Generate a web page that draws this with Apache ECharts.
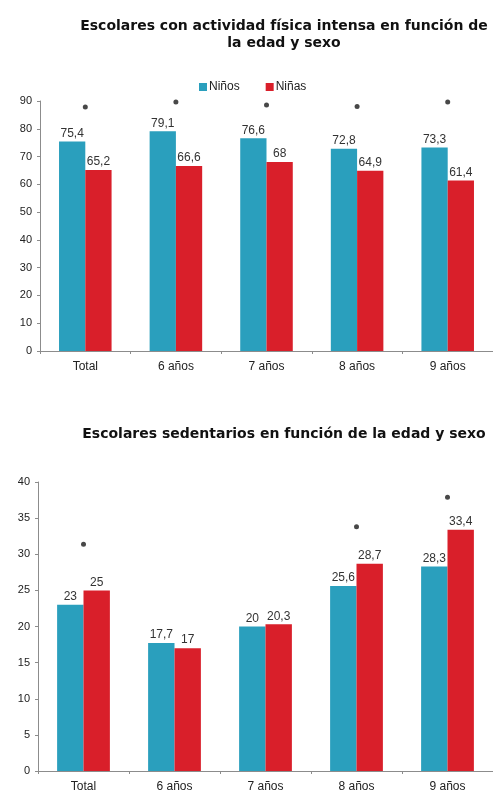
<!DOCTYPE html>
<html>
<head>
<meta charset="utf-8">
<script src="https://cdn.jsdelivr.net/npm/echarts@6/dist/echarts.min.js"></script>
<style>
  html, body { margin: 0; padding: 0; background: #fff; }
  #chart { width: 493px; height: 793px; }
</style>
</head>
<body>
<div id="chart"></div>
<script>
// categorias y datos
var categorias = ['Total', '6 años', '7 años', '8 años', '9 años'];

// actividad fisica intensa (%)
var activNinos = [75.4, 79.1, 76.6, 72.8, 73.3];
var activNinas = [65.2, 66.6, 68, 64.9, 61.4];
var activEstrellas = [87.8, 89.6, 88.6, 88.0, 89.6]; // posicion del asterisco

// sedentarios (%)
var sedenNinos = [23, 17.7, 20, 25.6, 28.3];
var sedenNinas = [25, 17, 20.3, 28.7, 33.4];
var sedenEstrellas = [31.4, null, null, 33.8, 37.9];

var azul = '#2a9fbd';
var rojo = '#d91f2a';
var fuente = 'Liberation Sans, Arial, sans-serif';
var fuenteTitulo = 'DejaVu Sans, Verdana, sans-serif';

function coma(p) {
  return String(p.value).replace('.', ',');
}

var chart = echarts.init(document.getElementById('chart'));

var ejeX = function (idx) {
  return {
    type: 'category',
    gridIndex: idx,
    data: categorias,
    axisLine: { lineStyle: { color: '#8c8c8c' } },
    axisTick: { show: true, length: 3, lineStyle: { color: '#8c8c8c' } },
    axisLabel: { color: '#222', fontSize: 12, fontFamily: fuente, margin: 10 }
  };
};
var ejeY = function (idx, max, interval) {
  return {
    type: 'value',
    gridIndex: idx,
    min: 0, max: max, interval: interval,
    splitLine: { show: false },
    axisLine: { show: true, lineStyle: { color: '#8c8c8c' } },
    axisTick: { show: true, length: 3, lineStyle: { color: '#8c8c8c' } },
    axisLabel: { color: '#222', fontSize: 11, fontFamily: fuente, margin: 8 }
  };
};

var etiqueta = {
  show: true, position: 'top', distance: 2,
  color: '#333', fontSize: 12, fontFamily: fuente,
  formatter: coma
};

var option = {
  animation: false,
  title: [
    {
      text: 'Escolares con actividad física intensa en función de\nla edad y sexo',
      left: 279, top: 13, textAlign: 'center',
      textStyle: { fontSize: 14, fontWeight: 'bold', color: '#111', fontFamily: fuenteTitulo, lineHeight: 17, align: 'center' }
    },
    {
      text: 'Escolares sedentarios en función de la edad y sexo',
      left: 279, top: 422, textAlign: 'center',
      textStyle: { fontSize: 14, fontWeight: 'bold', color: '#111', fontFamily: fuenteTitulo }
    }
  ],
  legend: {
    data: ['Niños', 'Niñas'],
    top: 76, left: 194,
    itemWidth: 8, itemHeight: 8, itemGap: 26,
    icon: 'rect',
    textStyle: { fontSize: 12, color: '#222', fontFamily: fuente, padding: [0, 0, 0, -3] }
  },
  grid: [
    { left: 40, top: 101, width: 453, height: 250 },
    { left: 38, top: 482, width: 455, height: 289 }
  ],
  xAxis: [ejeX(0), ejeX(1)],
  yAxis: [ejeY(0, 90, 10), ejeY(1, 40, 5)],
  series: [
    {
      name: 'Niños', type: 'bar', xAxisIndex: 0, yAxisIndex: 0,
      data: activNinos, barGap: '0%', barCategoryGap: '42%',
      itemStyle: { color: azul }, label: etiqueta
    },
    {
      name: 'Niñas', type: 'bar', xAxisIndex: 0, yAxisIndex: 0,
      data: activNinas, barGap: '0%', barCategoryGap: '42%',
      itemStyle: { color: rojo }, label: etiqueta
    },
    {
      name: 'Niños', type: 'bar', xAxisIndex: 1, yAxisIndex: 1,
      data: sedenNinos, barGap: '0%', barCategoryGap: '42%',
      itemStyle: { color: azul }, label: etiqueta
    },
    {
      name: 'Niñas', type: 'bar', xAxisIndex: 1, yAxisIndex: 1,
      data: sedenNinas, barGap: '0%', barCategoryGap: '42%',
      itemStyle: { color: rojo }, label: etiqueta
    },
    {
      name: 'sig1', type: 'scatter', xAxisIndex: 0, yAxisIndex: 0,
      data: activEstrellas, symbol: 'circle', symbolSize: 5,
      itemStyle: { color: '#1a1a1a' }
    },
    {
      name: 'sig2', type: 'scatter', xAxisIndex: 1, yAxisIndex: 1,
      data: sedenEstrellas, symbol: 'circle', symbolSize: 5,
      itemStyle: { color: '#1a1a1a' }
    }
  ]
};

chart.setOption(option);
</script>
</body>
</html>
